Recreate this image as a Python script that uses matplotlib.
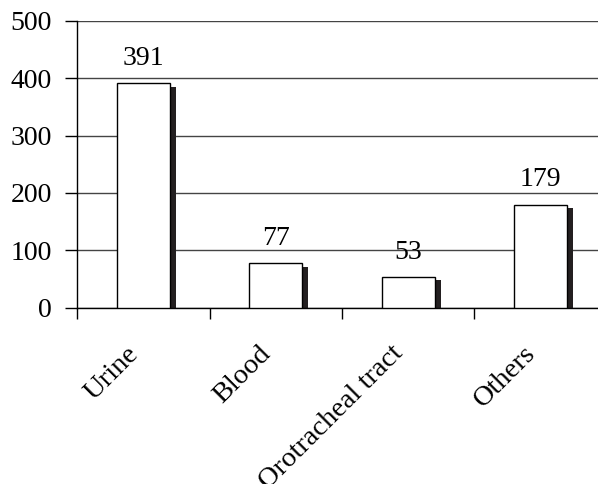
import matplotlib
matplotlib.use("Agg")
import matplotlib.pyplot as plt
import numpy as np

categories = ["Urine", "Blood", "Orotracheal tract", "Others"]
counts = [391, 77, 53, 179]
y_ticks = [0, 100, 200, 300, 400, 500]

plt.rcParams["font.family"] = ["Liberation Serif", "DejaVu Serif"]
plt.rcParams["font.size"] = 20

fig = plt.figure(figsize=(5.98, 4.84), dpi=100)
ax = fig.add_axes([77 / 598, 176.5 / 484, 530 / 598, 286.5 / 484])

x = np.arange(len(categories))
bar_w = 0.4
shadow_dx = 0.045
shadow_dy = 5.5

# dark drop shadow behind each bar
ax.bar(x + shadow_dx, np.array(counts) - shadow_dy, width=bar_w,
       color="#231f20", zorder=2)
ax.bar(x, counts, width=bar_w, color="white", edgecolor="black",
       linewidth=1.0, zorder=3)

for xi, v in zip(x, counts):
    ax.text(xi, v + 22, str(v), ha="center", va="bottom", fontsize=20)

ax.set_xlim(-0.5, len(categories) - 0.5)
ax.set_ylim(0, 500)
ax.set_yticks(y_ticks)
ax.yaxis.grid(True, color="#444444", linewidth=1.0, zorder=0)
ax.set_axisbelow(True)

ax.set_xticks(x)
ax.set_xticklabels(categories, rotation=45, ha="right", va="bottom",
                   rotation_mode="anchor", fontsize=20.5)
ax.set_xticks(np.arange(len(categories) + 1) - 0.5, minor=True)
ax.tick_params(axis="x", which="major", length=0, pad=37)
ax.tick_params(axis="x", which="minor", length=8, width=1, direction="out")
ax.tick_params(axis="y", length=9, width=1, direction="out", pad=9)

for s in ["top", "right"]:
    ax.spines[s].set_visible(False)
ax.spines["left"].set_linewidth(1.0)
ax.spines["bottom"].set_linewidth(1.0)

fig.savefig("out.png", dpi=100)
